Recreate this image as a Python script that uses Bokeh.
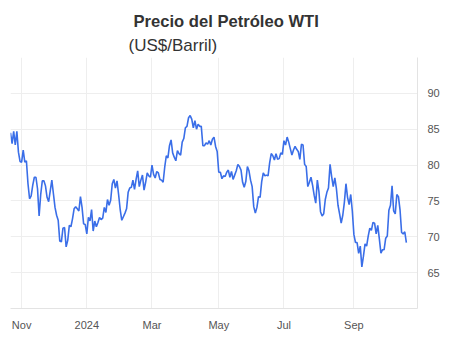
import pandas as pd
from bokeh.plotting import figure
from bokeh.models import Title, FixedTicker, Range1d
from bokeh.embed import file_html
from bokeh.resources import INLINE

title_text = "Precio del Petróleo WTI"
subtitle_text = "(US$/Barril)"

trade_dates = [
    # Oct 2023
    "2023-10-23", "2023-10-24", "2023-10-25", "2023-10-26", "2023-10-27", "2023-10-30", "2023-10-31",
    # Nov 2023
    "2023-11-01", "2023-11-02", "2023-11-03", "2023-11-06", "2023-11-07", "2023-11-08", "2023-11-09",
    "2023-11-10", "2023-11-13", "2023-11-14", "2023-11-15", "2023-11-16", "2023-11-17", "2023-11-20",
    "2023-11-21", "2023-11-22", "2023-11-24", "2023-11-27", "2023-11-28", "2023-11-29", "2023-11-30",
    # Dec 2023
    "2023-12-01", "2023-12-04", "2023-12-05", "2023-12-06", "2023-12-07", "2023-12-08", "2023-12-11",
    "2023-12-12", "2023-12-13", "2023-12-14", "2023-12-15", "2023-12-18", "2023-12-19", "2023-12-20",
    "2023-12-21", "2023-12-22", "2023-12-26", "2023-12-27", "2023-12-28", "2023-12-29",
    # Jan 2024
    "2024-01-02", "2024-01-03", "2024-01-04", "2024-01-05", "2024-01-08", "2024-01-09", "2024-01-10",
    "2024-01-11", "2024-01-12", "2024-01-16", "2024-01-17", "2024-01-18", "2024-01-19", "2024-01-22",
    "2024-01-23", "2024-01-24", "2024-01-25", "2024-01-26", "2024-01-29", "2024-01-30", "2024-01-31",
    # Feb 2024
    "2024-02-01", "2024-02-02", "2024-02-05", "2024-02-06", "2024-02-07", "2024-02-08", "2024-02-09",
    "2024-02-12", "2024-02-13", "2024-02-14", "2024-02-15", "2024-02-16", "2024-02-20", "2024-02-21",
    "2024-02-22", "2024-02-23", "2024-02-26", "2024-02-27", "2024-02-28", "2024-02-29",
    # Mar 2024
    "2024-03-01", "2024-03-04", "2024-03-05", "2024-03-06", "2024-03-07", "2024-03-08", "2024-03-11",
    "2024-03-12", "2024-03-13", "2024-03-14", "2024-03-15", "2024-03-18", "2024-03-19", "2024-03-20",
    "2024-03-21", "2024-03-22", "2024-03-25", "2024-03-26", "2024-03-27", "2024-03-28",
    # Apr 2024
    "2024-04-01", "2024-04-02", "2024-04-03", "2024-04-04", "2024-04-05", "2024-04-08", "2024-04-09",
    "2024-04-10", "2024-04-11", "2024-04-12", "2024-04-15", "2024-04-16", "2024-04-17", "2024-04-18",
    "2024-04-19", "2024-04-22", "2024-04-23", "2024-04-24", "2024-04-25", "2024-04-26", "2024-04-29",
    "2024-04-30",
    # May 2024
    "2024-05-01", "2024-05-02", "2024-05-03", "2024-05-06", "2024-05-07", "2024-05-08", "2024-05-09",
    "2024-05-10", "2024-05-13", "2024-05-14", "2024-05-15", "2024-05-16", "2024-05-17", "2024-05-20",
    "2024-05-21", "2024-05-22", "2024-05-23", "2024-05-24", "2024-05-28", "2024-05-29", "2024-05-30",
    "2024-05-31",
    # Jun 2024
    "2024-06-03", "2024-06-04", "2024-06-05", "2024-06-06", "2024-06-07", "2024-06-10", "2024-06-11",
    "2024-06-12", "2024-06-13", "2024-06-14", "2024-06-17", "2024-06-18", "2024-06-20", "2024-06-21",
    "2024-06-24", "2024-06-25", "2024-06-26", "2024-06-27", "2024-06-28",
    # Jul 2024
    "2024-07-01", "2024-07-02", "2024-07-03", "2024-07-05", "2024-07-08", "2024-07-09", "2024-07-10",
    "2024-07-11", "2024-07-12", "2024-07-15", "2024-07-16", "2024-07-17", "2024-07-18", "2024-07-19",
    "2024-07-22", "2024-07-23", "2024-07-24", "2024-07-25", "2024-07-26", "2024-07-29", "2024-07-30",
    "2024-07-31",
    # Aug 2024
    "2024-08-01", "2024-08-02", "2024-08-05", "2024-08-06", "2024-08-07", "2024-08-08", "2024-08-09",
    "2024-08-12", "2024-08-13", "2024-08-14", "2024-08-15", "2024-08-16", "2024-08-19", "2024-08-20",
    "2024-08-21", "2024-08-22", "2024-08-23", "2024-08-26", "2024-08-27", "2024-08-28", "2024-08-29",
    "2024-08-30",
    # Sep 2024
    "2024-09-03", "2024-09-04", "2024-09-05", "2024-09-06", "2024-09-09", "2024-09-10", "2024-09-11",
    "2024-09-12", "2024-09-13", "2024-09-16", "2024-09-17", "2024-09-18", "2024-09-19", "2024-09-20",
    "2024-09-23", "2024-09-24", "2024-09-25", "2024-09-26", "2024-09-27", "2024-09-30",
    # Oct 2024
    "2024-10-01", "2024-10-02", "2024-10-03", "2024-10-04", "2024-10-07", "2024-10-08", "2024-10-09",
    "2024-10-10", "2024-10-11", "2024-10-14", "2024-10-15", "2024-10-16", "2024-10-17", "2024-10-18",
]

wti_close = [
    # Oct 2023
    84.5, 83.0, 84.7, 82.8, 84.7, 81.8, 80.5,
    # Nov 2023
    80.4, 82.1, 80.4, 80.6, 77.4, 75.3, 75.7,
    77.2, 78.3, 78.3, 76.7, 72.9, 75.9, 77.8,
    77.8, 77.1, 75.5, 74.9, 76.4, 77.9, 76.0,
    # Dec 2023
    74.1, 73.0, 72.3, 69.4, 69.3, 71.2, 71.3,
    68.6, 69.5, 71.6, 71.4, 72.5, 73.9, 74.2,
    73.9, 73.6, 75.6, 74.1, 71.8, 71.7,
    # Jan 2024
    70.4, 72.7, 72.2, 73.8, 70.8, 72.2, 71.4,
    72.0, 72.7, 72.4, 72.6, 74.1, 73.4, 75.2,
    74.4, 75.1, 77.4, 78.0, 76.8, 77.8, 75.9,
    # Feb 2024
    73.8, 72.3, 72.8, 73.3, 73.9, 76.2, 76.8,
    76.9, 77.9, 76.6, 78.0, 79.2, 77.0, 77.9,
    78.6, 76.5, 77.6, 78.9, 78.5, 78.3,
    # Mar 2024
    80.0, 78.7, 78.2, 79.1, 78.9, 78.0, 77.9,
    77.6, 79.7, 81.3, 81.0, 82.7, 83.5, 81.7,
    81.1, 80.6, 82.0, 81.6, 81.4, 83.2,
    # Apr 2024
    83.7, 85.2, 85.4, 86.6, 86.9, 86.4, 85.2,
    86.2, 85.0, 85.7, 85.4, 85.4, 82.7, 82.7,
    83.1, 82.9, 83.4, 82.8, 83.6, 83.9, 82.6,
    81.9,
    # May 2024
    79.0, 79.0, 78.1, 78.5, 78.4, 79.0, 79.3,
    78.3, 79.1, 78.0, 78.6, 79.2, 80.1, 79.8,
    79.3, 77.6, 76.9, 77.7, 79.8, 79.2, 77.9,
    77.0,
    # Jun 2024
    74.2, 73.3, 74.1, 75.6, 75.5, 77.7, 78.9,
    78.5, 78.6, 78.5, 80.3, 81.6, 81.3, 80.7,
    81.6, 80.8, 80.9, 81.7, 81.5,
    # Jul 2024
    83.4, 82.8, 83.9, 83.2, 82.3, 81.4, 82.1,
    82.6, 82.2, 81.9, 80.8, 82.9, 82.8, 80.1,
    79.8, 77.0, 77.6, 78.3, 77.2, 75.8, 74.7,
    77.9,
    # Aug 2024
    76.3, 73.5, 72.9, 73.2, 75.2, 76.2, 76.8,
    80.1, 78.4, 77.0, 78.2, 76.7, 74.4, 73.2,
    71.9, 73.0, 74.8, 77.4, 75.5, 74.5, 75.9,
    73.6,
    # Sep 2024
    70.3, 69.2, 69.2, 67.7, 68.7, 65.8, 67.3,
    69.0, 68.7, 70.1, 71.2, 70.9, 72.0, 71.9,
    70.4, 71.6, 69.7, 67.7, 68.2, 68.2,
    # Oct 2024
    69.8, 70.1, 73.7, 74.4, 77.1, 73.6, 73.2,
    75.9, 75.6, 73.8, 70.6, 70.4, 70.7, 69.2,
]

# month labels sit at the first trading session of each listed month
x_tick_months = ["2023-11", "2024-01", "2024-03", "2024-05", "2024-07", "2024-09"]
x_tick_labels = ["Nov", "2024", "Mar", "May", "Jul", "Sep"]
y_ticks = [60, 65, 70, 75, 80, 85, 90, 95]
y_tick_labels = ["", "65", "70", "75", "80", "85", "90", ""]
y_start, y_end = 60, 95
x_pad_sessions = 7  # empty sessions shown after the last close

# trading-session axis (no gaps for weekends/holidays)
session_idx = list(range(len(trade_dates)))
tick_idx = [next(i for i, d in enumerate(trade_dates) if d.startswith(m)) for m in x_tick_months]

p = figure(width=457, height=352, y_axis_location="right",
           output_backend="svg", toolbar_location=None,
           x_range=Range1d(0, len(trade_dates) - 1 + x_pad_sessions),
           y_range=Range1d(y_start, y_end))
p.min_border_left = 10
p.min_border_right = 40
p.min_border_top = 57
p.min_border_bottom = 44
p.outline_line_color = None
p.background_fill_color = "white"
p.border_fill_color = "white"

p.line(session_idx, wti_close, line_color="#3a6ee8", line_width=1.6)

p.xaxis.ticker = FixedTicker(ticks=tick_idx)
p.xaxis.major_label_overrides = {t: l for t, l in zip(tick_idx, x_tick_labels)}
p.yaxis.ticker = FixedTicker(ticks=y_ticks)
p.yaxis.major_label_overrides = {t: l for t, l in zip(y_ticks, y_tick_labels)}
for ax in (p.xaxis[0], p.yaxis[0]):
    ax.axis_line_color = "#e3e3e3"
    ax.major_tick_line_color = None
    ax.minor_tick_line_color = None
    ax.major_label_text_font = "Liberation Sans"
    ax.major_label_text_font_size = "11px"
    ax.major_label_text_color = "#555555"
    ax.major_label_standoff = 4
p.xgrid.grid_line_color = "#eeeeee"
p.ygrid.grid_line_color = "#eeeeee"

sub = Title(text=subtitle_text, align="left", offset=118, text_font="Liberation Sans",
            text_font_size="17px", text_font_style="normal", text_color="#333333", standoff=5)
main = Title(text=title_text, align="left", offset=123, text_font="Liberation Sans",
             text_font_size="16.6px", text_font_style="bold", text_color="#333333", standoff=1)
p.add_layout(sub, "above")
p.add_layout(main, "above")

open("out.html", "w").write(file_html(p, INLINE))
